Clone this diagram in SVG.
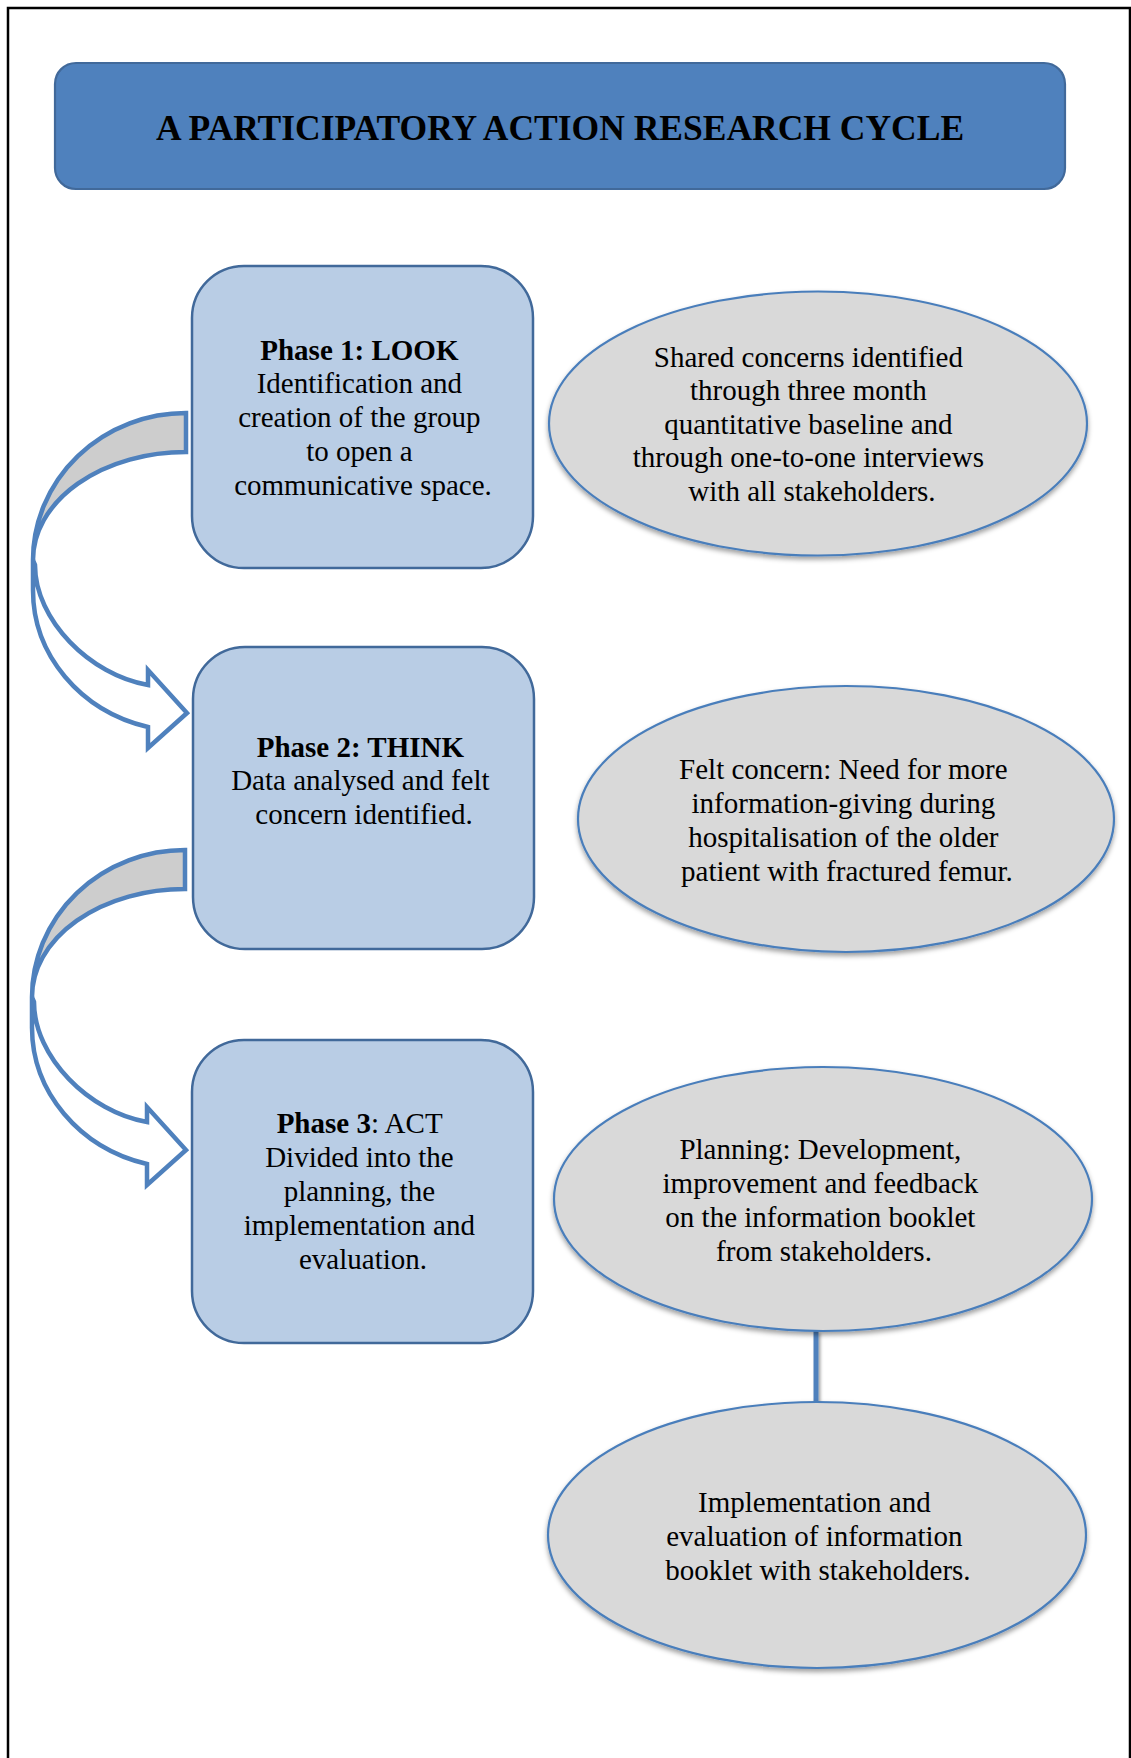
<svg xmlns="http://www.w3.org/2000/svg" width="1131" height="1758" viewBox="0 0 1131 1758">
  <style>
    .page { fill: none; stroke: #000; stroke-width: 2.5; }
    .title-box { fill: #4F81BD; stroke: #41699A; stroke-width: 2.2; }
    .title { font-family: "Liberation Serif", "Times New Roman", serif; font-weight: bold; font-size: 35.5px; fill: #000; text-anchor: middle; }
    .phase { fill: #B9CDE5; stroke: #41699A; stroke-width: 2.5; }
    .bubble { fill: #D9D9D9; stroke: #4A7EBB; stroke-width: 2.2; }
    .txt { font-family: "Liberation Serif", "Times New Roman", serif; font-size: 29px; fill: #000; text-anchor: middle; }
    .b { font-weight: bold; }
    .band-back { fill: #CDCDCD; stroke: #4F81BD; stroke-width: 4.5; stroke-linejoin: miter; }
    .band-front { fill: #FFFFFF; stroke: #4F81BD; stroke-width: 4.5; stroke-linejoin: miter; }
    .link { stroke: #4F81BD; stroke-width: 5; fill: none; }
  </style>
  <defs>
    <filter id="shadow" x="-10%" y="-10%" width="120%" height="130%">
      <feDropShadow dx="0" dy="3" stdDeviation="2.5" flood-color="#000" flood-opacity="0.38"/>
    </filter>
    <!-- user-space region so a zero-width vertical line still gets its shadow -->
    <filter id="line-shadow" filterUnits="userSpaceOnUse" x="780" y="1300" width="80" height="140">
      <feDropShadow dx="2" dy="2" stdDeviation="1.5" flood-color="#000" flood-opacity="0.35"/>
    </filter>
    <!-- curved right arrow: shaded back band, then front band ending in the head -->
    <g id="curved-arrow">
      <path class="band-front" d="M33,560 L33,590 A153,141 0 0 0 148,727 L148,748 L187,713 L148,670 L148,685 C90,675 35,620 35,565 Z"/>
      <path class="band-back" d="M186,413 A153,147 0 0 0 33,560 A153,108 0 0 1 186,452 Z"/>
    </g>
  </defs>

  <rect width="1131" height="1758" fill="#FFFFFF"/>
  <path class="page" d="M8,1758 V8 H1130 V1758"/>

  <g id="title">
    <rect class="title-box" x="55" y="63" width="1010" height="126" rx="21" ry="21"/>
    <text class="title" x="560" y="140">A PARTICIPATORY ACTION RESEARCH CYCLE</text>
  </g>

  <g id="connectors">
    <use href="#curved-arrow"/>
    <use href="#curved-arrow" transform="translate(-1,437)"/>
    <line class="link" x1="816" y1="1331" x2="816" y2="1403" filter="url(#line-shadow)"/>
  </g>

  <g id="phase1">
    <rect class="phase" x="192" y="266" width="341" height="302" rx="52" ry="52"/>
    <text class="txt" x="363">
      <tspan class="b" x="363" y="360">Phase 1: LOOK</tspan>
      <tspan x="363" y="393">Identification and</tspan>
      <tspan x="363" y="427">creation of the group</tspan>
      <tspan x="363" y="461">to open a</tspan>
      <tspan x="363" y="495">communicative space.</tspan>
    </text>
  </g>

  <g id="phase2">
    <rect class="phase" x="193" y="647" width="341" height="302" rx="52" ry="52"/>
    <text class="txt" x="364">
      <tspan class="b" x="364" y="757">Phase 2: THINK</tspan>
      <tspan x="364" y="790">Data analysed and felt</tspan>
      <tspan x="364" y="824">concern identified.</tspan>
    </text>
  </g>

  <g id="phase3">
    <rect class="phase" x="192" y="1040" width="341" height="303" rx="52" ry="52"/>
    <text class="txt" x="363">
      <tspan x="363" y="1133"><tspan class="b">Phase 3</tspan>: ACT</tspan>
      <tspan x="363" y="1167">Divided into the</tspan>
      <tspan x="363" y="1201">planning, the</tspan>
      <tspan x="363" y="1235">implementation and</tspan>
      <tspan x="363" y="1269">evaluation.</tspan>
    </text>
  </g>

  <g id="concerns">
    <ellipse class="bubble" cx="818" cy="423.5" rx="269" ry="132" filter="url(#shadow)"/>
    <text class="txt" x="812">
      <tspan x="812" y="367">Shared concerns identified</tspan>
      <tspan x="812" y="400">through three month</tspan>
      <tspan x="812" y="434">quantitative baseline and</tspan>
      <tspan x="812" y="467">through one-to-one interviews</tspan>
      <tspan x="812" y="501">with all stakeholders.</tspan>
    </text>
  </g>

  <g id="felt-concern">
    <ellipse class="bubble" cx="846" cy="819" rx="268" ry="133" filter="url(#shadow)"/>
    <text class="txt" x="847">
      <tspan x="847" y="779">Felt concern: Need for more</tspan>
      <tspan x="847" y="813">information-giving during</tspan>
      <tspan x="847" y="847">hospitalisation of the older</tspan>
      <tspan x="847" y="881">patient with fractured femur.</tspan>
    </text>
  </g>

  <g id="planning">
    <ellipse class="bubble" cx="823" cy="1199" rx="269" ry="132" filter="url(#shadow)"/>
    <text class="txt" x="824">
      <tspan x="824" y="1159">Planning: Development,</tspan>
      <tspan x="824" y="1193">improvement and feedback</tspan>
      <tspan x="824" y="1227">on the information booklet</tspan>
      <tspan x="824" y="1261">from stakeholders.</tspan>
    </text>
  </g>

  <g id="implementation">
    <ellipse class="bubble" cx="817" cy="1535" rx="269" ry="133" filter="url(#shadow)"/>
    <text class="txt" x="818">
      <tspan x="818" y="1512">Implementation and</tspan>
      <tspan x="818" y="1546">evaluation of information</tspan>
      <tspan x="818" y="1580">booklet with stakeholders.</tspan>
    </text>
  </g>
</svg>
